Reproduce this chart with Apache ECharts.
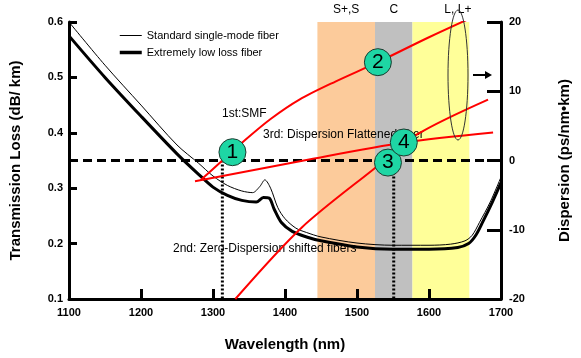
<!DOCTYPE html>
<html><head><meta charset="utf-8">
<script src="https://cdn.jsdelivr.net/npm/echarts@6/dist/echarts.min.js"></script>
<style>html,body{margin:0;padding:0;background:#fff}#c{width:581px;height:358px}</style>
</head><body><div id="c"></div>
<script>
// Loss curves (dB/km)
var wlStd = [1100,1150,1200,1250,1280,1300,1320,1340,1355,1365,1372,1380,1390,1400,1415,1430,1450,1500,1550,1600,1630,1650,1660,1670,1685,1700];
var lossStd = [0.600,0.522,0.450,0.378,0.345,0.322,0.305,0.295,0.292,0.303,0.315,0.300,0.265,0.245,0.228,0.220,0.212,0.201,0.197,0.197,0.199,0.205,0.215,0.238,0.275,0.320];
var wlLow = [1100,1150,1200,1250,1280,1300,1320,1340,1360,1370,1378,1385,1395,1410,1430,1450,1500,1550,1600,1640,1655,1665,1675,1688,1700];
var lossLow = [0.575,0.500,0.430,0.362,0.325,0.302,0.287,0.278,0.275,0.283,0.282,0.262,0.238,0.222,0.212,0.205,0.194,0.190,0.190,0.193,0.200,0.215,0.240,0.275,0.310];
// Dispersion curves (ps/nm/km)
var smfWl = [1283,1313,1345,1380,1420,1470,1529,1600,1682];
var smfD  = [-2.8,0,3.0,6.0,8.8,11.4,14.2,17.8,21.7];
var dsfWl = [1331,1423,1526,1584,1682];
var dsfD  = [-20,-9.7,-1.0,3.8,8.8];
var dffWl = [1275,1426,1565,1689];
var dffD  = [-3.0,0,2.6,4.05];
// Numbered markers
var markWl = [1327,1529,1543,1565];
var markD  = [1.2,14.2,-0.3,2.6];
var markLabel = ['1','2','3','4'];
// Bands
var bandNames = ['S+,S','C','L, L+'];
var bandFrom = [1445,1525,1577];
var bandTo = [1525,1577,1656];
var bandColors = ['#FCCB9B','#C0C0C0','#FFFF99'];
// Zero-dispersion wavelengths
var zeroWl = [1313,1551];
// Axis ticks
var xTicks = {min:1100,max:1700,interval:100};
var yLossTicks = {min:0.1,max:0.6,interval:0.1};
var yDispTicks = {min:-20,max:20,interval:10};

function zip(a,b){return a.map(function(v,i){return [v,b[i]];});}

var chart = echarts.init(document.getElementById('c'));
var font = 'Arial, "Liberation Sans", sans-serif';
var axisLabelStyle = {color:'#000',fontWeight:'bold',fontSize:11,fontFamily:font};
var nameStyle = {color:'#000',fontWeight:'bold',fontSize:15,fontFamily:font};

var bandData = bandNames.map(function(n,i){
  var lbl = {show:true,position:'top',distance:6,color:'#000',fontSize:12,fontFamily:font};
  if(i===2){lbl.offset=[17,0];}
  return [{xAxis:bandFrom[i],name:n,itemStyle:{color:bandColors[i]},label:lbl},{xAxis:bandTo[i]}];
});

var option = {
  animation:false,
  backgroundColor:'#fff',
  textStyle:{fontFamily:font},
  grid:{left:65,right:80,top:22,bottom:59},
  legend:{
    orient:'vertical',left:113,top:25,itemWidth:22,itemHeight:12,itemGap:6,
    itemStyle:{color:'rgba(0,0,0,0)',borderWidth:0,opacity:0},
    textStyle:{fontSize:11,color:'#000',fontFamily:font},
    data:[
      {name:'Standard single-mode fiber',lineStyle:{width:1,color:'#000'}},
      {name:'Extremely low loss fiber',lineStyle:{width:3.5,color:'#000'}}
    ]
  },
  xAxis:{
    type:'value',min:xTicks.min,max:xTicks.max,interval:xTicks.interval,
    name:'Wavelength (nm)',nameLocation:'middle',nameGap:38,nameTextStyle:nameStyle,
    axisLine:{show:true,onZero:false,lineStyle:{color:'#000',width:3}},
    axisTick:{show:true,inside:true,length:10,lineStyle:{color:'#000',width:3}},
    axisLabel:Object.assign({margin:8,formatter:function(v){return String(v);}},axisLabelStyle),
    splitLine:{show:false}
  },
  yAxis:[{
    type:'value',min:yLossTicks.min,max:yLossTicks.max,interval:yLossTicks.interval,
    name:'Transmission Loss (dB/ km)',nameLocation:'middle',nameGap:46,nameTextStyle:nameStyle,
    axisLine:{show:true,lineStyle:{color:'#000',width:3}},
    axisTick:{show:true,inside:true,length:8,lineStyle:{color:'#000',width:3}},
    axisLabel:Object.assign({margin:6,formatter:function(v){return v.toFixed(1);}},axisLabelStyle),
    splitLine:{show:false}
  },{
    type:'value',min:yDispTicks.min,max:yDispTicks.max,interval:yDispTicks.interval,position:'right',
    name:'Dispersion (ps/nm\u2022km)',nameLocation:'middle',nameGap:56,nameRotate:90,nameTextStyle:nameStyle,
    axisLine:{show:true,lineStyle:{color:'#000',width:3}},
    axisTick:{show:true,inside:true,length:14,lineStyle:{color:'#000',width:3}},
    axisLabel:Object.assign({margin:8},axisLabelStyle),
    splitLine:{show:false}
  }],
  graphic:[
    {type:'text',left:222,top:108,z:3,style:{text:'1st:SMF',fontSize:12,fill:'#000',fontFamily:font}},
    {type:'text',left:263,top:129,z:3,style:{text:'3rd: Dispersion Flattened fiber',fontSize:12,fill:'#000',fontFamily:font}},
    {type:'text',left:173,top:243,z:3,style:{text:'2nd: Zero-Dispersion shifted fibers',fontSize:12,fill:'#000',fontFamily:font}},
    {type:'ellipse',z:20,shape:{cx:458,cy:75,rx:10,ry:65},style:{fill:'none',stroke:'#333',lineWidth:1}},
    {type:'line',z:20,shape:{x1:473,y1:75,x2:487,y2:75},style:{stroke:'#000',lineWidth:2}},
    {type:'polygon',z:20,shape:{points:[[485,71],[492,75],[485,79]]},style:{fill:'#000'}}
  ],
  series:[
    {
      name:'bands',type:'line',data:[],z:0,silent:true,
      markArea:{silent:true,z:0,data:bandData}
    },
    {
      name:'Standard single-mode fiber',type:'line',yAxisIndex:0,data:zip(wlStd,lossStd),
      smooth:0.3,symbol:'none',z:5,lineStyle:{color:'#000',width:1},itemStyle:{color:'#000'}
    },
    {
      name:'Extremely low loss fiber',type:'line',yAxisIndex:0,data:zip(wlLow,lossLow),
      smooth:0.3,symbol:'none',z:5,lineStyle:{color:'#000',width:3},itemStyle:{color:'#000'}
    },
    {
      name:'zero',type:'line',yAxisIndex:1,data:[],z:6,
      markLine:{silent:true,symbol:'none',label:{show:false},
        lineStyle:{color:'#000',width:3,type:[9,5]},data:[{yAxis:0}]}
    },
    {
      name:'zd1',type:'line',yAxisIndex:1,data:[[zeroWl[0],0],[zeroWl[0],-20]],symbol:'none',z:6,
      lineStyle:{color:'#000',width:3,type:[2,2]}
    },
    {
      name:'zd2',type:'line',yAxisIndex:1,data:[[zeroWl[1],0],[zeroWl[1],-20]],symbol:'none',z:6,
      lineStyle:{color:'#000',width:3,type:[2,2]}
    },
    {
      name:'SMF',type:'line',yAxisIndex:1,data:zip(smfWl,smfD),smooth:0.3,symbol:'none',z:7,
      lineStyle:{color:'#FF0000',width:2}
    },
    {
      name:'DSF',type:'line',yAxisIndex:1,data:zip(dsfWl,dsfD),smooth:0.3,symbol:'none',z:7,
      lineStyle:{color:'#FF0000',width:2}
    },
    {
      name:'DFF',type:'line',yAxisIndex:1,data:zip(dffWl,dffD),smooth:0.3,symbol:'none',z:7,
      lineStyle:{color:'#FF0000',width:2}
    },
    {
      name:'marks',type:'scatter',yAxisIndex:1,z:10,symbol:'circle',symbolSize:27,
      data:markWl.map(function(w,i){return {value:[w,markD[i]],label:{formatter:markLabel[i]}};}),
      itemStyle:{color:'#1ED6A4',borderColor:'#1C3C30',borderWidth:1,opacity:1},
      label:{show:true,position:'inside',color:'#000',fontSize:21,fontFamily:font}
    }
  ]
};
chart.setOption(option);
</script></body></html>
